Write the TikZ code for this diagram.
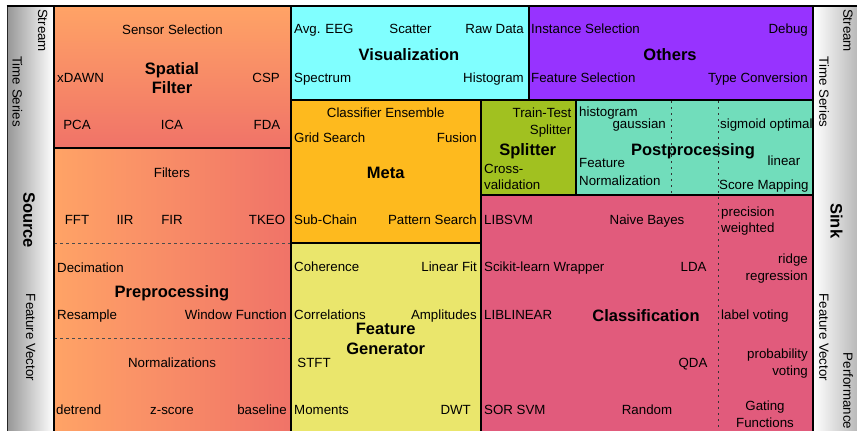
\documentclass[tikz,border=0pt]{standalone}
\usepackage{fontspec}
\setmainfont{Liberation Sans}
\definecolor{sfTop}{RGB}{255,163,102}
\definecolor{sfBot}{RGB}{240,115,104}
\definecolor{vis}{RGB}{128,255,255}
\definecolor{oth}{RGB}{151,51,255}
\definecolor{metac}{RGB}{254,186,30}
\definecolor{splitc}{RGB}{161,193,32}
\definecolor{postc}{RGB}{113,221,187}
\definecolor{clsc}{RGB}{225,91,124}
\definecolor{fgenc}{RGB}{234,230,108}
\definecolor{sideDark}{RGB}{150,150,150}
\definecolor{sideDarkR}{RGB}{165,165,165}
\begin{document}
\begin{tikzpicture}[x=1pt,y=-1pt,
  lbl/.style={inner sep=0pt,font=\fontsize{13.3}{15}\selectfont},
  ttl/.style={inner sep=0pt,font=\fontsize{16.5}{19}\selectfont\bfseries},
  side/.style={inner sep=0pt,rotate=-90,anchor=base,font=\fontsize{13.3}{15}\selectfont},
  sidettl/.style={inner sep=0pt,rotate=-90,anchor=base,font=\fontsize{16.5}{19}\selectfont\bfseries},
  boxline/.style={line width=1.4pt,black},
  thinline/.style={line width=1pt,black!85},
  dashline/.style={gray!60!black,line width=0.8pt,dash pattern=on 2.5pt off 3.5pt},
  dotline/.style={gray!40!black,line width=1pt,dash pattern=on 2pt off 4pt}]
\useasboundingbox (0,0) rectangle (857,431);
\begin{scope}
\clip (0,0) rectangle (857,431);
\fill[white] (0,0) rectangle (857,431);
% fills
\fill[left color=sideDark,right color=white] (7,6) rectangle (54,440);
\fill[left color=white,right color=sideDarkR] (813,6) rectangle (870,440);
\fill[top color=sfTop,bottom color=sfBot] (54,6) rectangle (291,148);
\fill[left color=sfTop,right color=sfBot] (54,148) rectangle (291,440);
\fill[vis] (291,6) rectangle (529,100);
\fill[oth] (529,6) rectangle (813,100);
\fill[metac] (291,100) rectangle (481,243);
\fill[splitc] (481,100) rectangle (576,195);
\fill[postc] (576,100) rectangle (813,195);
\fill[clsc] (481,195) rectangle (813,440);
\fill[fgenc] (291,243) rectangle (481,440);
% dashed and dotted separators
\draw[dashline] (54,243) -- (291,243);
\draw[dashline] (54,338) -- (291,338);
\draw[dotline] (671,101) -- (671,195);
\draw[dotline] (718,101) -- (718,440);
% borders
\draw[thinline] (7,440) -- (7,6);
\draw[boxline] (6.5,6) -- (870,6);
\draw[boxline] (54,6) -- (54,440);
\draw[boxline] (813,6) -- (813,440);
\draw[boxline] (54,148) -- (291,148);
\draw[boxline] (291,6) -- (291,440);
\draw[boxline] (529,6) -- (529,100);
\draw[boxline] (291,100) -- (813,100);
\draw[boxline] (481,100) -- (481,440);
\draw[boxline] (576,100) -- (576,195);
\draw[boxline] (481,195) -- (813,195);
\draw[boxline] (291,243) -- (481,243);
\end{scope}
% side columns
\node[side] (lstream) at (38,30.5) {Stream};
\node[side] (ltime) at (12.7,91.5) {Time Series};
\node[sidettl] (lsource) at (23.3,220) {Source};
\node[side] (lfv) at (26,337.5) {Feature Vector};
\node[side] (rstream) at (843.3,30.5) {Stream};
\node[side] (rtime) at (819.3,92) {Time Series};
\node[sidettl] (rsink) at (830.7,220.8) {Sink};
\node[side] (rfv) at (819.3,337.3) {Feature Vector};
\node[side] (rperf) at (843.3,391) {Performance};
% Spatial Filter
\node[lbl,anchor=base] (ss) at (172.5,34.5) {Sensor Selection};
\node[ttl,anchor=base] (sf1) at (172,74) {Spatial};
\node[ttl,anchor=base] (sf2) at (172,93) {Filter};
\node[lbl,anchor=base west] (xdawn) at (57,82) {xDAWN};
\node[lbl,anchor=base east] (csp) at (280,82) {CSP};
\node[lbl,anchor=base] (pca) at (77,129) {PCA};
\node[lbl,anchor=base] (ica) at (172,129) {ICA};
\node[lbl,anchor=base] (fda) at (267,129) {FDA};
% Preprocessing
\node[lbl,anchor=base] (filters) at (172,177) {Filters};
\node[lbl,anchor=base] (fft) at (77,224) {FFT};
\node[lbl,anchor=base] (iir) at (125,224) {IIR};
\node[lbl,anchor=base] (fir) at (172,224) {FIR};
\node[lbl,anchor=base] (tkeo) at (267,224) {TKEO};
\node[lbl,anchor=base west] (decim) at (57,272) {Decimation};
\node[ttl,anchor=base] (prep) at (172,297) {Preprocessing};
\node[lbl,anchor=base west] (resample) at (57,319) {Resample};
\node[lbl,anchor=base east] (window) at (287,319) {Window Function};
\node[lbl,anchor=base] (norms) at (172,367) {Normalizations};
\node[lbl,anchor=base west] (detrend) at (56,414) {detrend};
\node[lbl,anchor=base] (zscore) at (172,414) {z-score};
\node[lbl,anchor=base east] (baseline) at (287,414) {baseline};
% Visualization
\node[lbl,anchor=base west] (avg) at (294,34) {Avg. EEG};
\node[lbl,anchor=base] (scatter) at (410.5,34) {Scatter};
\node[lbl,anchor=base east] (raw) at (524,34) {Raw Data};
\node[ttl,anchor=base] (visual) at (409,60) {Visualization};
\node[lbl,anchor=base west] (spectrum) at (294,82) {Spectrum};
\node[lbl,anchor=base east] (histo) at (524,82) {Histogram};
% Others
\node[lbl,anchor=base west] (inst) at (531,34) {Instance Selection};
\node[lbl,anchor=base east] (debug) at (808,34) {Debug};
\node[ttl,anchor=base] (others) at (670,60) {Others};
\node[lbl,anchor=base west] (fsel) at (531,82) {Feature Selection};
\node[lbl,anchor=base east] (tconv) at (808,82) {Type Conversion};
% Meta
\node[lbl,anchor=base] (ensemble) at (385.7,117.5) {Classifier Ensemble};
\node[lbl,anchor=base west] (grid) at (294,142) {Grid Search};
\node[lbl,anchor=base east] (fusion) at (477,142) {Fusion};
\node[ttl,anchor=base] (meta) at (385.7,178) {Meta};
\node[lbl,anchor=base west] (subchain) at (294,224) {Sub-Chain};
\node[lbl,anchor=base east] (pattern) at (477,224) {Pattern Search};
% Splitter
\node[lbl,anchor=base east] (tt1) at (571.5,117.5) {Train-Test};
\node[lbl,anchor=base east] (tt2) at (571.5,134) {Splitter};
\node[ttl,anchor=base] (splitter) at (527.7,155) {Splitter};
\node[lbl,anchor=base west] (cv1) at (484,173) {Cross-};
\node[lbl,anchor=base west] (cv2) at (484,189) {validation};
% Postprocessing
\node[lbl,anchor=base west] (phist) at (579,116) {histogram};
\node[lbl,anchor=base east] (gauss) at (666,128) {gaussian};
\node[lbl,anchor=base west] (sigm) at (720,128) {sigmoid optimal};
\node[ttl,anchor=base] (post) at (693,155) {Postprocessing};
\node[lbl,anchor=base west] (fn1) at (579,167) {Feature};
\node[lbl,anchor=base west] (fn2) at (579,185) {Normalization};
\node[lbl,anchor=base] (linear) at (784,165) {linear};
\node[lbl,anchor=base west] (score) at (719,189) {Score Mapping};
% Classification
\node[lbl,anchor=base west] (libsvm) at (484,224) {LIBSVM};
\node[lbl,anchor=base] (naive) at (647,224.5) {Naive Bayes};
\node[lbl,anchor=base west] (prec1) at (721,216) {precision};
\node[lbl,anchor=base west] (prec2) at (721,232) {weighted};
\node[lbl,anchor=base west] (scikit) at (484,271.5) {Scikit-learn Wrapper};
\node[lbl,anchor=base east] (lda) at (706.7,271.5) {LDA};
\node[lbl,anchor=base east] (ridge1) at (808,263.5) {ridge};
\node[lbl,anchor=base east] (ridge2) at (808,280) {regression};
\node[lbl,anchor=base west] (liblinear) at (484,319) {LIBLINEAR};
\node[ttl,anchor=base] (classif) at (646,321) {Classification};
\node[lbl,anchor=base west] (label) at (721,319) {label voting};
\node[lbl,anchor=base] (qda) at (693,367) {QDA};
\node[lbl,anchor=base east] (prob1) at (808,358.5) {probability};
\node[lbl,anchor=base east] (prob2) at (808,375) {voting};
\node[lbl,anchor=base west] (sorsvm) at (484,414) {SOR SVM};
\node[lbl,anchor=base] (random) at (647,414) {Random};
\node[lbl,anchor=base] (gat1) at (765,410.5) {Gating};
\node[lbl,anchor=base] (gat2) at (765,427) {Functions};
% Feature Generator
\node[lbl,anchor=base west] (coher) at (294,271.5) {Coherence};
\node[lbl,anchor=base east] (linfit) at (477,271.5) {Linear Fit};
\node[lbl,anchor=base west] (correl) at (294,319) {Correlations};
\node[lbl,anchor=base east] (ampl) at (477,319) {Amplitudes};
\node[ttl,anchor=base] (fg1) at (385.7,334) {Feature};
\node[ttl,anchor=base] (fg2) at (385.7,354) {Generator};
\node[lbl,anchor=base] (stft) at (314,367) {STFT};
\node[lbl,anchor=base west] (moments) at (294,414) {Moments};
\node[lbl,anchor=base east] (dwt) at (471,414) {DWT};
\end{tikzpicture}
\end{document}
